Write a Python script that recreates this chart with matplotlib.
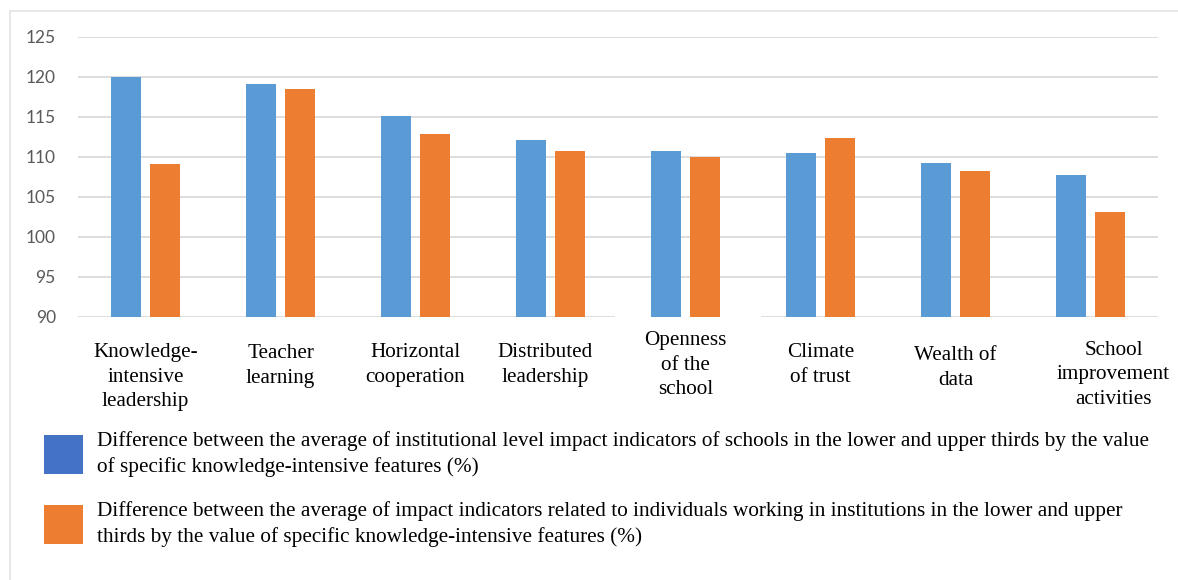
import numpy as np
import matplotlib.pyplot as plt
from matplotlib.patches import Rectangle
from matplotlib.transforms import blended_transform_factory

# data
categories = ['Knowledge-\nintensive\nleadership', 'Teacher\nlearning', 'Horizontal\ncooperation',
              'Distributed\nleadership', 'Openness\nof the\nschool', 'Climate\nof trust',
              'Wealth of\ndata', 'School\nimprovement\nactivities']
institutional = [120.0, 119.1, 115.1, 112.1, 110.7, 110.5, 109.2, 107.8]
individual = [109.1, 118.5, 112.9, 110.8, 110.0, 112.4, 108.3, 103.1]
yticks = [90, 95, 100, 105, 110, 115, 120, 125]
legend_labels = [
    'Difference between the average of institutional level impact indicators of schools in the lower and upper thirds by the value\n'
    'of specific knowledge-intensive features (%)',
    'Difference between the average of impact indicators related to individuals working in institutions in the lower and upper\n'
    'thirds by the value of specific knowledge-intensive features (%)',
]

W, H = 1178, 580
fig = plt.figure(figsize=(W / 100, H / 100), dpi=100)
ax = fig.add_axes([78 / W, (H - 317) / H, 1080 / W, 280 / H])

x = np.arange(len(categories))
ax.bar(x - 0.145, institutional, width=0.225, color='#5B9BD5', zorder=3)
ax.bar(x + 0.145, individual, width=0.225, color='#ED7D31', zorder=3)

ax.set_xlim(-0.5, len(categories) - 0.5)
ax.set_ylim(90, 125)
ax.set_yticks(yticks)
ax.set_yticklabels([str(t) for t in yticks], family='Lato', fontsize=12.5, color='#595959')
ax.tick_params(axis='y', length=0, pad=16)
ax.set_xticks([])
ax.grid(axis='y', color='#DEDEDE', lw=1.4, zorder=0)
for s in ax.spines.values():
    s.set_visible(False)

# category labels (placed under each group, as in the source)
label_y = [377, 366, 365, 365, 365, 365, 368, 375]
label_dx = [0, 0, 0, -0.04, 0, 0, 0, 0.17]
tr = blended_transform_factory(ax.transData, fig.transFigure)
for i, lab in enumerate(categories):
    ax.text(x[i] + label_dx[i], (H - label_y[i]) / H, lab, transform=tr, ha='center', va='center',
            family='Liberation Serif', fontsize=15.2, linespacing=1.4, clip_on=False, zorder=6)

# white box behind the "Openness" label that breaks the base line
ax.add_patch(Rectangle((615 / W, (H - 400) / H), 146 / W, 84 / H, transform=fig.transFigure,
                       facecolor='white', edgecolor='none', zorder=2, clip_on=False))

# legend
colors = ['#4472C4', '#ED7D31']
legend_y = [454, 524]
for c, lab, yy in zip(colors, legend_labels, legend_y):
    fig.patches.append(Rectangle((44 / W, (H - yy - 20) / H), 39 / W, 39 / H, transform=fig.transFigure,
                                 facecolor=c, edgecolor='none'))
    fig.text(97 / W, (H - yy) / H, lab, ha='left', va='center', family='Liberation Serif',
             fontsize=15.3, linespacing=1.35)

# thin outer frame
fig.patches.append(Rectangle((10 / W, -0.1), 1.2, (H - 11) / H + 0.1, transform=fig.transFigure,
                             facecolor='none', edgecolor='#E3E3E3', lw=1.2))

fig.savefig('out.png', dpi=100)
